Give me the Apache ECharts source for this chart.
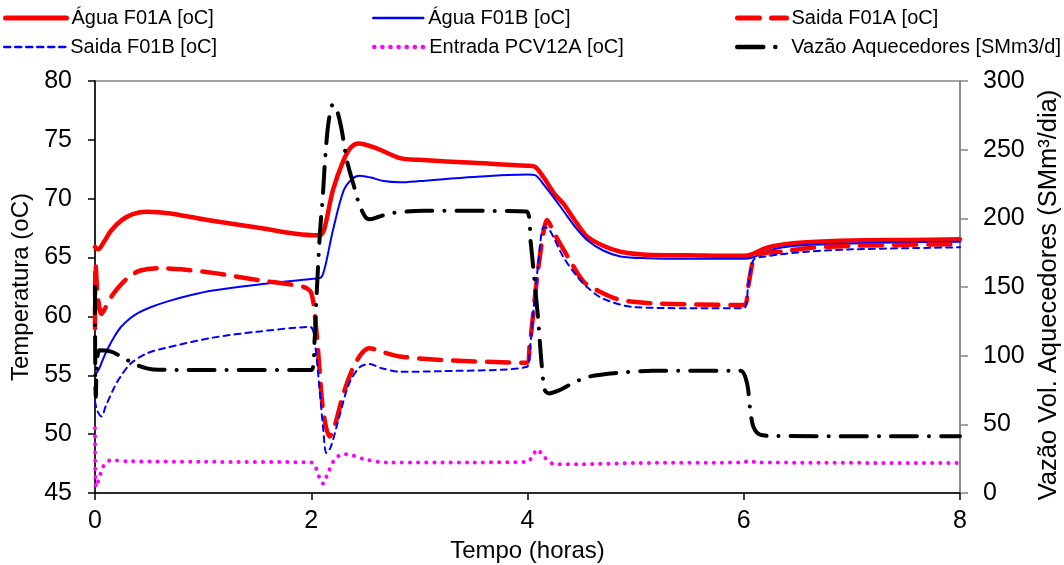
<!DOCTYPE html>
<html>
<head>
<meta charset="utf-8">
<title>Temperaturas e vazão</title>
<script src="https://cdn.jsdelivr.net/npm/echarts/dist/echarts.min.js"></script>
<style>
  html, body { margin: 0; padding: 0; background: #fff; }
  #main { width: 1064px; height: 565px; }
</style>
</head>
<body>
<div id="main"></div>
<script>
// dados: [tempo (h), valor]
const aguaF01A = [[0,65.9],[0.03,65.7],[0.08,66.3],[0.15,67.3],[0.25,68.2],[0.35,68.7],[0.48,68.9],[0.7,68.75],[1.0,68.25],[1.5,67.55],[2.02,66.9],[2.08,66.9],[2.12,67.4],[2.2,70.7],[2.3,73.3],[2.37,74.4],[2.44,74.7],[2.6,74.3],[2.82,73.45],[3.0,73.3],[3.5,73.05],[4.0,72.8],[4.07,72.7],[4.15,71.8],[4.25,70.4],[4.33,69.6],[4.45,68.0],[4.55,66.8],[4.7,66.0],[4.86,65.5],[5.1,65.25],[5.5,65.2],[6.0,65.15],[6.08,65.3],[6.2,65.8],[6.35,66.1],[6.58,66.3],[7.0,66.45],[7.5,66.5],[8.0,66.55]];
const aguaF01B = [[0,55.0],[0.04,55.6],[0.08,56.5],[0.12,57.3],[0.18,58.3],[0.24,59.1],[0.32,59.8],[0.4,60.3],[0.52,60.8],[0.68,61.3],[0.88,61.8],[1.09,62.2],[1.5,62.7],[2.02,63.2],[2.09,63.3],[2.13,64.3],[2.2,67.3],[2.3,70.7],[2.38,71.7],[2.45,71.95],[2.55,71.8],[2.67,71.5],[2.82,71.4],[3.0,71.5],[3.5,71.85],[4.0,72.05],[4.07,72.0],[4.15,71.2],[4.25,70.0],[4.33,69.0],[4.45,67.5],[4.55,66.5],[4.7,65.6],[4.86,65.1],[5.1,64.95],[5.5,64.9],[6.0,64.9],[6.08,65.0],[6.2,65.5],[6.35,65.85],[6.58,66.07],[7.0,66.2],[7.5,66.3],[8.0,66.35]];
const saidaF01A = [[0,59.0],[0.005,64.5],[0.025,61.8],[0.06,60.2],[0.1,60.8],[0.16,61.8],[0.23,62.6],[0.32,63.4],[0.42,63.9],[0.6,64.1],[0.8,64.0],[1.09,63.7],[1.5,63.1],[1.93,62.5],[2.0,62.0],[2.04,59.5],[2.07,56.3],[2.11,52.0],[2.17,49.8],[2.21,50.5],[2.3,53.5],[2.39,55.7],[2.47,56.9],[2.54,57.3],[2.65,57.0],[2.82,56.6],[3.2,56.3],[3.99,56.07],[4.02,57.5],[4.05,60.0],[4.09,63.4],[4.15,67.3],[4.18,68.2],[4.24,67.2],[4.3,66.2],[4.39,64.8],[4.52,62.95],[4.67,62.1],[4.86,61.4],[5.2,61.1],[6.0,60.97],[6.04,62.5],[6.09,64.8],[6.15,65.3],[6.35,65.5],[6.58,65.8],[7.0,66.0],[8.0,66.15]];
const saidaF01B = [[0,52.8],[0.02,52.0],[0.06,51.5],[0.1,52.4],[0.18,54.0],[0.23,54.8],[0.33,56.0],[0.48,56.86],[0.64,57.3],[1.09,58.2],[1.5,58.7],[1.99,59.1],[2.03,58.0],[2.08,53.5],[2.11,50.5],[2.14,48.4],[2.18,48.9],[2.26,51.5],[2.35,54.3],[2.45,55.7],[2.54,55.95],[2.65,55.6],[2.82,55.3],[3.2,55.35],[3.99,55.7],[4.02,57.0],[4.06,61.0],[4.1,64.5],[4.15,67.6],[4.2,67.4],[4.33,65.07],[4.45,63.5],[4.55,62.5],[4.7,61.5],[4.98,60.8],[5.5,60.7],[6.0,60.7],[6.04,62.5],[6.09,64.8],[6.2,65.1],[6.58,65.5],[7.0,65.7],[8.0,65.87]];
const entradaPCV12A = [[0,50.5],[0.01,45.5],[0.04,46.3],[0.08,47.3],[0.15,47.8],[0.3,47.7],[1.0,47.65],[2.0,47.6],[2.04,47.2],[2.08,46.2],[2.11,45.8],[2.15,46.6],[2.22,47.9],[2.3,48.3],[2.38,48.2],[2.5,47.85],[2.7,47.6],[3.5,47.6],[4.0,47.65],[4.05,48.2],[4.09,48.7],[4.15,48.1],[4.25,47.45],[4.5,47.45],[5.0,47.55],[6.0,47.6],[6.05,47.75],[6.12,47.6],[8.0,47.55]];
const vazaoAquecedores = [[0,150],[0.008,70],[0.04,104],[0.15,103],[0.25,99],[0.39,93],[0.54,90],[1.0,89.5],[2.0,89.5],[2.03,110],[2.05,145],[2.08,189],[2.11,220],[2.13,245],[2.16,270],[2.2,283],[2.24,278],[2.28,265],[2.33,242],[2.4,222],[2.44,211],[2.5,201],[2.54,199.3],[2.62,201],[2.73,203.6],[3.04,205.5],[3.99,205],[4.03,182],[4.07,150],[4.1,125],[4.13,94.4],[4.16,75],[4.2,72.5],[4.3,75],[4.42,80],[4.56,84.6],[4.84,87.5],[5.16,89],[5.97,89],[6.03,80],[6.06,60.4],[6.09,48],[6.15,42.5],[6.3,41.5],[8.0,41.3]];

// eixos
const xTicks = { min: 0, max: 8, interval: 2 };
const tempTicks = { min: 45, max: 80, interval: 5 };
const vazaoTicks = { min: 0, max: 300, interval: 50 };

const fonte = 'Liberation Sans, Arial, sans-serif';

// estilo de cada curva: cor, espessura, tracejado
const estilos = {
  'Água F01A [oC]': { color: '#ff0000', width: 4.5, type: 'solid' },
  'Água F01B [oC]': { color: '#0000ff', width: 2, type: 'solid' },
  'Saida F01A [oC]': { color: '#ff0000', width: 4.5, type: [22, 12] },
  'Saida F01B [oC]': { color: '#0000ff', width: 2, type: [6, 5] },
  'Entrada PCV12A [oC]': { color: '#ff00ff', width: 4, type: [0.1, 8] },
  'Vazão Aquecedores [SMm3/d]': { color: '#000000', width: 4, type: [26, 12, 0.1, 12] }
};

function legenda(nome, left, top, largura) {
  let e = estilos[nome];
  return {
    data: [nome],
    left: left,
    top: top,
    padding: 0,
    itemWidth: largura,
    itemHeight: 20,
    itemGap: 0,
    selectedMode: false,
    itemStyle: { opacity: 0 }, // só a linha, sem o círculo
    lineStyle: { color: e.color, width: e.width + 0.5, type: e.type, cap: 'round' },
    textStyle: { fontSize: 20, color: '#000', fontFamily: fonte }
  };
}

function linha(nome, dados, eixo) {
  let e = estilos[nome];
  return {
    name: nome,
    type: 'line',
    yAxisIndex: eixo,
    data: dados,
    showSymbol: false,
    symbol: 'none',
    smooth: 0.3,
    lineStyle: { color: e.color, width: e.width, type: e.type, cap: 'round', join: 'round' },
    itemStyle: { color: e.color, opacity: 0 }
  };
}

let option = {
  animation: false,
  backgroundColor: '#fff',
  textStyle: { fontFamily: fonte },
  legend: [
    legenda('Água F01A [oC]', 3, 8, 61),
    legenda('Água F01B [oC]', 372, 8, 50),
    legenda('Saida F01A [oC]', 735, 8, 49),
    legenda('Saida F01B [oC]', 3, 37, 61),
    legenda('Entrada PCV12A [oC]', 372, 37, 50),
    legenda('Vazão Aquecedores [SMm3/d]', 735, 37, 49)
  ],
  grid: {
    left: 95, right: 104, top: 81, bottom: 72,
    outerBoundsMode: 'none', // a área do gráfico fica fixa
    show: true, borderColor: '#868686', borderWidth: 1.5, backgroundColor: 'transparent'
  },
  xAxis: {
    type: 'value',
    min: xTicks.min, max: xTicks.max, interval: xTicks.interval,
    name: 'Tempo (horas)',
    nameLocation: 'middle',
    nameGap: 46,
    nameTextStyle: { fontSize: 24, color: '#000', fontFamily: fonte },
    axisLine: { onZero: false, lineStyle: { color: '#000', width: 1.5 } },
    axisTick: { inside: false, length: 7, lineStyle: { color: '#000', width: 1.5 } },
    axisLabel: { fontSize: 25, color: '#000', margin: 16, fontFamily: fonte },
    splitLine: { show: false }
  },
  yAxis: [
    {
      type: 'value',
      position: 'left',
      min: tempTicks.min, max: tempTicks.max, interval: tempTicks.interval,
      name: 'Temperatura (oC)',
      nameLocation: 'middle',
      nameGap: 51,
      nameTextStyle: { fontSize: 24, color: '#000', fontFamily: fonte },
      axisLine: { show: true, onZero: false, lineStyle: { color: '#000', width: 1.5 } },
      axisTick: { show: true, length: 7, lineStyle: { color: '#000', width: 1.5 } },
      axisLabel: { fontSize: 25, color: '#000', margin: 23, fontFamily: fonte },
      splitLine: { show: false }
    },
    {
      type: 'value',
      position: 'right',
      min: vazaoTicks.min, max: vazaoTicks.max, interval: vazaoTicks.interval,
      name: 'Vazão Vol. Aquecedores (SMm³/dia)',
      nameLocation: 'middle',
      nameGap: 75,
      nameRotate: 90,
      nameTextStyle: { fontSize: 25.5, color: '#000', fontFamily: fonte, padding: [0, 16, 0, 0] },
      axisLine: { show: true, onZero: false, lineStyle: { color: '#868686', width: 1.5 } },
      axisTick: { show: true, length: 8, lineStyle: { color: '#868686', width: 1.5 } },
      axisLabel: { fontSize: 25, color: '#000', margin: 23, fontFamily: fonte },
      splitLine: { show: false }
    }
  ],
  series: [
    linha('Água F01A [oC]', aguaF01A, 0),
    linha('Água F01B [oC]', aguaF01B, 0),
    linha('Saida F01A [oC]', saidaF01A, 0),
    linha('Saida F01B [oC]', saidaF01B, 0),
    linha('Entrada PCV12A [oC]', entradaPCV12A, 0),
    linha('Vazão Aquecedores [SMm3/d]', vazaoAquecedores, 1)
  ]
};

// cria a instância e desenha
let myChart = echarts.init(document.getElementById('main'), null, { renderer: 'canvas' });
myChart.setOption(option);
</script>
</body>
</html>
